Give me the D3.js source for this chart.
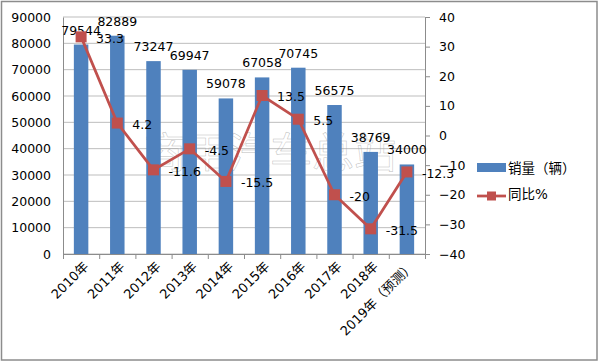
<!DOCTYPE html>
<html>
<head>
<meta charset="utf-8">
<script src="https://cdn.jsdelivr.net/npm/d3@7"></script>
<style>
  body { margin: 0; background: #fff; }
  svg { display: block; font-family: "DejaVu Sans", "Noto Sans CJK SC", sans-serif; }
</style>
</head>
<body>
<div id="chart"></div>
<script>
const years = ['2010年', '2011年', '2012年', '2013年', '2014年', '2015年', '2016年', '2017年', '2018年', '2019年（预测）'];
const sales = [79544, 82889, 73247, 69947, 59078, 67058, 70745, 56575, 38769, 34000];
const growth = [33.3, 4.2, -11.6, -4.5, -15.5, 13.5, 5.5, -20, -31.5, -12.3];
const leftTicks = d3.range(0, 90001, 10000);
const rightTicks = d3.range(-40, 41, 10);

const width = 600;
const height = 362;
const plot = { left: 63, right: 425, top: 17, bottom: 254 };

const barColor = '#4F81BD';
const lineColor = '#C0504D';

const svg = d3.select('#chart')
  .append('svg')
  .attr('width', width)
  .attr('height', height);

// outer frame
svg.append('rect')
  .attr('x', 1.5).attr('y', 1.5)
  .attr('width', 595.5).attr('height', 358.5)
  .attr('fill', '#fff')
  .attr('stroke', '#8c8c8c')
  .attr('stroke-width', 1.5);

const x = d3.scaleBand()
  .domain(years)
  .range([plot.left, plot.right])
  .paddingInner(0.6)
  .paddingOuter(0.3);

const xEdge = d3.scaleLinear()
  .domain([0, years.length])
  .range([plot.left, plot.right]);

const y = d3.scaleLinear()
  .domain([0, 90000])
  .range([plot.bottom, plot.top]);

const yR = d3.scaleLinear()
  .domain([-40, 40])
  .range([plot.bottom, plot.top]);

const cx = d => x(d) + x.bandwidth() / 2;

// gridlines
svg.append('g')
  .selectAll('line')
  .data(leftTicks)
  .join('line')
    .attr('x1', plot.left).attr('x2', plot.right)
    .attr('y1', d => y(d)).attr('y2', d => y(d))
    .attr('stroke', '#bdbdbd')
    .attr('stroke-width', 1);

// watermark
svg.append('text')
  .attr('x', 270).attr('y', 168)
  .attr('text-anchor', 'middle')
  .attr('font-size', 42)
  .attr('fill', 'none')
  .attr('stroke', '#a0a0a0')
  .attr('stroke-width', 0.5)
  .attr('stroke-opacity', 0.7)
  .text('商用汽车总站');

// bars
svg.append('g')
  .attr('fill', barColor)
  .selectAll('rect')
  .data(sales)
  .join('rect')
    .attr('x', (d, i) => x(years[i]))
    .attr('y', d => y(d))
    .attr('width', x.bandwidth())
    .attr('height', d => y(0) - y(d));

// LEFT AXIS
svg.append('g')
  .attr('transform', `translate(${plot.left},0)`)
  .call(d3.axisLeft(y).tickValues(leftTicks).tickSize(0).tickPadding(12).tickFormat(d3.format('d')))
  .call(g => g.select('.domain').attr('stroke', '#8c8c8c'))
  .attr('font-size', 12.5)
  .attr('font-family', null);

// RIGHT AXIS
svg.append('g')
  .attr('transform', `translate(${plot.right},0)`)
  .call(d3.axisRight(yR).tickValues(rightTicks).tickSize(5).tickPadding(9))
  .call(g => g.select('.domain').attr('stroke', '#8c8c8c'))
  .call(g => g.selectAll('.tick line').attr('stroke', '#8c8c8c'))
  .attr('font-size', 12.5)
  .attr('font-family', null);

// BOTTOM AXIS (ticks at category edges)
svg.append('g')
  .attr('transform', `translate(0,${plot.bottom})`)
  .call(d3.axisBottom(xEdge).ticks(years.length).tickSize(5).tickFormat(''))
  .call(g => g.select('.domain').attr('stroke', '#8c8c8c'))
  .call(g => g.selectAll('.tick line').attr('stroke', '#8c8c8c'));

svg.append('g')
  .selectAll('text')
  .data(years)
  .join('text')
    .attr('transform', d => `translate(${cx(d) + 5},${plot.bottom + 10}) rotate(-45)`)
    .attr('text-anchor', 'end')
    .attr('dy', '0.35em')
    .attr('font-size', 13)
    .attr('fill', '#000')
    .text(d => d);

// bar labels
svg.append('g')
  .selectAll('text')
  .data(sales)
  .join('text')
    .attr('x', (d, i) => cx(years[i]))
    .attr('y', d => y(d) - 10)
    .attr('text-anchor', 'middle')
    .attr('font-size', 12.5)
    .attr('fill', '#000')
    .text(d => d);

// growth line
const line = d3.line()
  .x((d, i) => cx(years[i]))
  .y(d => yR(d));

svg.append('path')
  .datum(growth)
  .attr('d', line)
  .attr('fill', 'none')
  .attr('stroke', lineColor)
  .attr('stroke-width', 2.75);

svg.append('g')
  .attr('fill', lineColor)
  .selectAll('rect')
  .data(growth)
  .join('rect')
    .attr('x', (d, i) => cx(years[i]) - 5.5)
    .attr('y', d => yR(d) - 5.5)
    .attr('width', 11)
    .attr('height', 11);

svg.append('g')
  .selectAll('text')
  .data(growth)
  .join('text')
    .attr('x', (d, i) => cx(years[i]) + 15)
    .attr('y', d => yR(d) + 1.5)
    .attr('dy', '0.35em')
    .attr('font-size', 12.5)
    .attr('fill', '#000')
    .text(d => d);

// legend
const legend = svg.append('g');
legend.append('rect')
  .attr('x', 477).attr('y', 163)
  .attr('width', 29).attr('height', 9)
  .attr('fill', barColor);
legend.append('text')
  .attr('x', 508).attr('y', 168)
  .attr('dy', '0.35em')
  .attr('font-size', 13.5)
  .text('销量（辆）');
legend.append('line')
  .attr('x1', 477).attr('x2', 506)
  .attr('y1', 196).attr('y2', 196)
  .attr('stroke', lineColor)
  .attr('stroke-width', 2.75);
legend.append('rect')
  .attr('x', 487).attr('y', 191.5)
  .attr('width', 9).attr('height', 9)
  .attr('fill', lineColor);
legend.append('text')
  .attr('x', 508).attr('y', 194)
  .attr('dy', '0.35em')
  .attr('font-size', 13.5)
  .text('同比%');
</script>
</body>
</html>
